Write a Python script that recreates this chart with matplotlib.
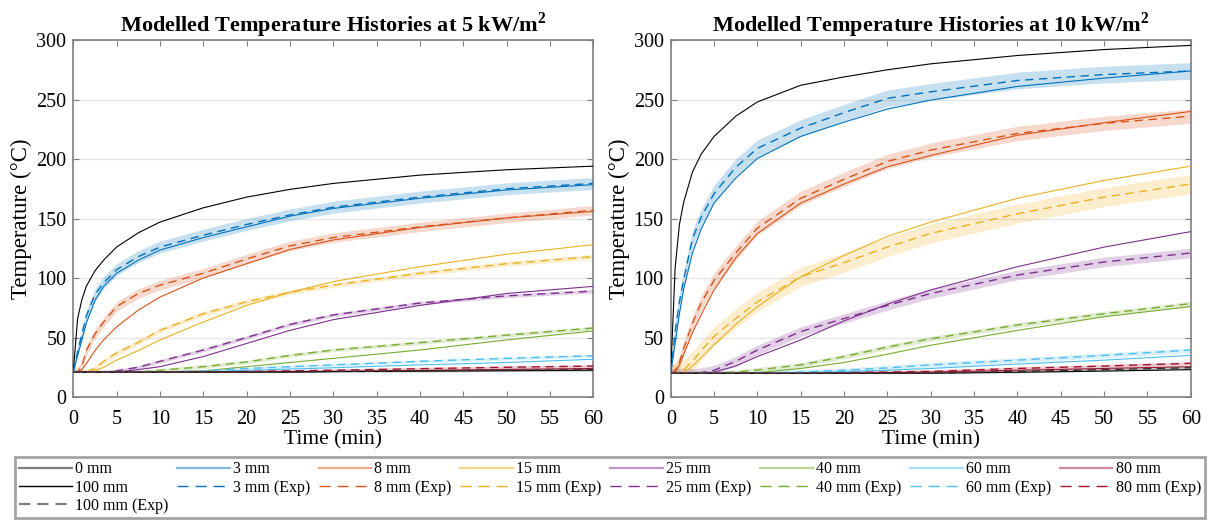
import matplotlib
matplotlib.use('Agg')
import matplotlib.pyplot as plt
from matplotlib.lines import Line2D

plt.rcParams['font.family'] = ['Liberation Serif', 'DejaVu Serif']
plt.rcParams['mathtext.fontset'] = 'custom'
plt.rcParams['mathtext.rm'] = 'Liberation Serif'
plt.rcParams['mathtext.bf'] = 'Liberation Serif:bold'

# time axis (min)
t = [0, 0.5, 1, 1.5, 2.5, 3.5, 5, 7.5, 10, 15, 20, 25, 30, 40, 50, 60]

depths = ['0 mm', '3 mm', '8 mm', '15 mm', '25 mm', '40 mm', '60 mm', '80 mm', '100 mm']
colors = ['black', '#0072BD', '#D95319', '#EDB120', '#7E2F8E', '#77AC30', '#4DBEEE', '#A2142F', 'black']
legend_light = ['#7f7f7f', '#80b8de', '#eca98c', '#f6d88f', '#be97c6', '#bbd597', '#a6def6', '#d089a0']

# 5 kW/m2 - model
m5_0 = [21, 66, 82, 93, 106, 115, 126, 138, 147, 159, 168, 174.5, 179.5, 186.5, 191, 194]
m5_3 = [21, 35, 48, 62, 81, 93, 104, 115, 123.5, 134, 143, 152, 158.5, 167, 174, 178.5]
m5_8 = [21, 21, 23, 28, 39, 48, 59, 73, 84, 100, 112, 124, 132, 142.5, 150.5, 156]
m5_15 = [21, 21, 21, 21, 22, 25, 31, 39, 48, 63, 77, 88, 97, 109.5, 120, 128]
m5_25 = [21, 21, 21, 21, 21, 21, 21, 23, 25.5, 34, 45, 56, 65, 77, 87, 93]
m5_40 = [21, 21, 21, 21, 21, 21, 21, 21, 21, 22, 25.5, 29, 32.5, 39.5, 48, 55.5]
m5_60 = [21, 21, 21, 21, 21, 21, 21, 21, 21, 21, 22.5, 23.5, 24.6, 27, 29, 31.7]
m5_80 = [21, 21, 21, 21, 21, 21, 21, 21, 21, 21, 21, 21.2, 21.5, 22.3, 23.2, 24]
m5_100 = [21, 21, 21, 21, 21, 21, 21, 21, 21, 21, 21, 21, 21.3, 21.7, 22.1, 22.5]
# 5 kW/m2 - experiment
e5_3 = [21, 38, 53, 68, 86, 96, 107, 118, 126, 136, 145, 153, 159.5, 168, 175, 179.5]
e5_8 = [21, 21, 26, 39, 53, 63, 76, 87, 94, 104, 116, 127, 134, 143, 150.5, 157]
e5_15 = [21, 21, 21, 21, 24, 30, 37, 46, 56, 70, 80, 88, 94, 104, 112, 118]
e5_25 = [21, 21, 21, 21, 21, 21, 22, 25, 30, 39.5, 50, 61, 69, 79, 85, 89]
e5_40 = [21, 21, 21, 21, 21, 21, 21, 21, 22.5, 25.5, 29.5, 35, 39.5, 45.7, 52, 58]
e5_60 = [21, 21, 21, 21, 21, 21, 21, 21, 21, 22, 24, 25.5, 27, 30, 32.5, 34.7]
e5_80 = [21, 21, 21, 21, 21, 21, 21, 21, 21, 21, 21.5, 22, 22.5, 23.8, 25, 26]
e5_100 = [21, 21, 21, 21, 21, 21, 21, 21, 21, 21, 21, 21, 21.5, 22, 22.6, 23]
band5 = [5, 4, 2, 1.5, 1.5, 1.2, 1.2, 1.2]

# 10 kW/m2 - model
m10_0 = [20, 108, 145, 164, 189, 204, 219, 236, 248, 262, 269, 275, 280, 287, 292, 295.5]
m10_3 = [20, 45, 70, 91, 121, 141, 163, 184, 200.5, 219, 231, 242, 249.5, 261, 268, 274]
m10_8 = [20, 21, 27, 36, 54, 69, 90, 117, 137.5, 163, 179, 193.5, 203, 220, 230.5, 240]
m10_15 = [20, 20, 20, 21, 26, 33, 44, 61, 76, 101, 119, 135, 147, 167, 182, 194]
m10_25 = [20, 20, 20, 20, 20, 20, 21, 26, 34, 48, 64, 78, 90, 109.5, 126, 139]
m10_40 = [20, 20, 20, 20, 20, 20, 20, 20, 20.5, 24, 29, 36, 43.5, 56, 67.5, 76]
m10_60 = [20, 20, 20, 20, 20, 20, 20, 20, 20, 20.5, 21.5, 22.5, 24, 27.7, 31, 35]
m10_80 = [20, 20, 20, 20, 20, 20, 20, 20, 20, 20, 20, 20.5, 21, 22.5, 24, 25.5]
m10_100 = [20, 20, 20, 20, 20, 20, 20, 20, 20, 20, 20, 20, 20, 20.8, 21.8, 23]
# 10 kW/m2 - experiment
e10_3 = [20, 55, 80, 99, 133, 151, 171, 193, 209, 226, 239, 251, 256.5, 266, 271, 274]
e10_8 = [20, 22, 29, 41, 62, 79, 98, 121, 142, 167, 183, 198, 207.5, 221.5, 230, 236]
e10_15 = [20, 20, 21, 23, 30, 39, 51, 66, 80, 101, 113, 126, 137.5, 154, 168, 179]
e10_25 = [20, 20, 20, 20, 20, 20.5, 22.5, 30, 39.5, 55, 66, 77, 87, 102.5, 113.5, 121]
e10_40 = [20, 20, 20, 20, 20, 20, 20, 21, 22.7, 27, 34, 42, 49, 60.5, 70, 78.5]
e10_60 = [20, 20, 20, 20, 20, 20, 20, 20, 20, 21, 22.5, 24.5, 27, 31, 35, 39.5]
e10_80 = [20, 20, 20, 20, 20, 20, 20, 20, 20, 20, 20.5, 21, 21.5, 24, 26, 28.3]
e10_100 = [20, 20, 20, 20, 20, 20, 20, 20, 20, 20, 20, 20, 20, 21.5, 23, 24.6]
band10 = [7, 6, 8, 4, 2, 2, 1.5, 1.2]

model5 = [m5_0, m5_3, m5_8, m5_15, m5_25, m5_40, m5_60, m5_80, m5_100]
exp5 = [e5_3, e5_8, e5_15, e5_25, e5_40, e5_60, e5_80, e5_100]
model10 = [m10_0, m10_3, m10_8, m10_15, m10_25, m10_40, m10_60, m10_80, m10_100]
exp10 = [e10_3, e10_8, e10_15, e10_25, e10_40, e10_60, e10_80, e10_100]

fig = plt.figure(figsize=(12.09, 5.2), dpi=100)
ax1 = fig.add_axes([0.0606, 0.2365, 0.4301, 0.6865])
ax2 = fig.add_axes([0.5548, 0.2365, 0.4301, 0.6865])


def draw(ax, model, exp, band, title):
    for i, e in enumerate(exp):
        c = colors[i + 1]
        # band never drops below the starting temperature
        lo = [max(v - band[i], e[0]) for v in e]
        hi = [v + band[i] for v in e]
        ax.fill_between(t, lo, hi, color=c, alpha=0.22, lw=0, zorder=1)
    for i, m in enumerate(model):
        ax.plot(t, m, color=colors[i], lw=0.8, zorder=3)
    for i, e in enumerate(exp):
        c = colors[i + 1] if i < 7 else '#333333'
        ax.plot(t, e, color=c, lw=1.0, ls=(0, (6, 4)), zorder=4)
    ax.set_xlim(0, 60)
    ax.set_ylim(0, 300)
    ax.set_xticks(range(0, 61, 5))
    ax.set_yticks(range(0, 301, 50))
    ax.grid(axis='y', color='#e6e6e6', lw=1, zorder=0)
    ax.set_axisbelow(True)
    ax.tick_params(direction='in', top=True, right=True, length=4,
                   labelsize=14.5, color='#808080', pad=5)
    ax.tick_params(axis='x', pad=9)
    for s in ax.spines.values():
        s.set_color('#808080')
        s.set_linewidth(1.2)
    ax.set_xlabel('Time (min)', fontsize=15.5, labelpad=1)
    ax.set_ylabel('Temperature (\u00b0C)', fontsize=16.5, labelpad=3)
    ax.set_title(title, fontsize=16, fontweight='bold', pad=6)


draw(ax1, model5, exp5, band5, r'Modelled Temperature Histories at 5 kW/m$^{\mathbf{2}}$')
draw(ax2, model10, exp10, band10, r'Modelled Temperature Histories at 10 kW/m$^{\mathbf{2}}$')

# legend (column-major order for 8 columns)
h_model = [Line2D([], [], color=legend_light[i], lw=1.6) for i in range(8)]
h_100 = Line2D([], [], color='black', lw=1.0)
h_exp = [Line2D([], [], color=colors[i + 1], lw=1.0, ls=(0, (8, 5))) for i in range(7)]
h_100e = Line2D([], [], color='#7f7f7f', lw=1.6, ls=(0, (5, 3.2)))

handles = [h_model[0], h_100, h_100e]
labels = ['0 mm', '100 mm', '100 mm (Exp)']
for i in range(1, 8):
    handles += [h_model[i], h_exp[i - 1]]
    labels += [depths[i], depths[i] + ' (Exp)']

leg = fig.legend(handles, labels, loc='lower left', ncol=8, mode='expand',
                 bbox_to_anchor=(0.0124, 0.004, 0.9843, 0.1115),
                 fontsize=11.5, handlelength=3.3, handletextpad=0.2,
                 labelspacing=0.15, borderpad=0.25, fancybox=False,
                 frameon=True, borderaxespad=0)
leg.get_frame().set_edgecolor('#8c8c8c')
leg.get_frame().set_linewidth(2)

fig.savefig('out.png', dpi=100)
